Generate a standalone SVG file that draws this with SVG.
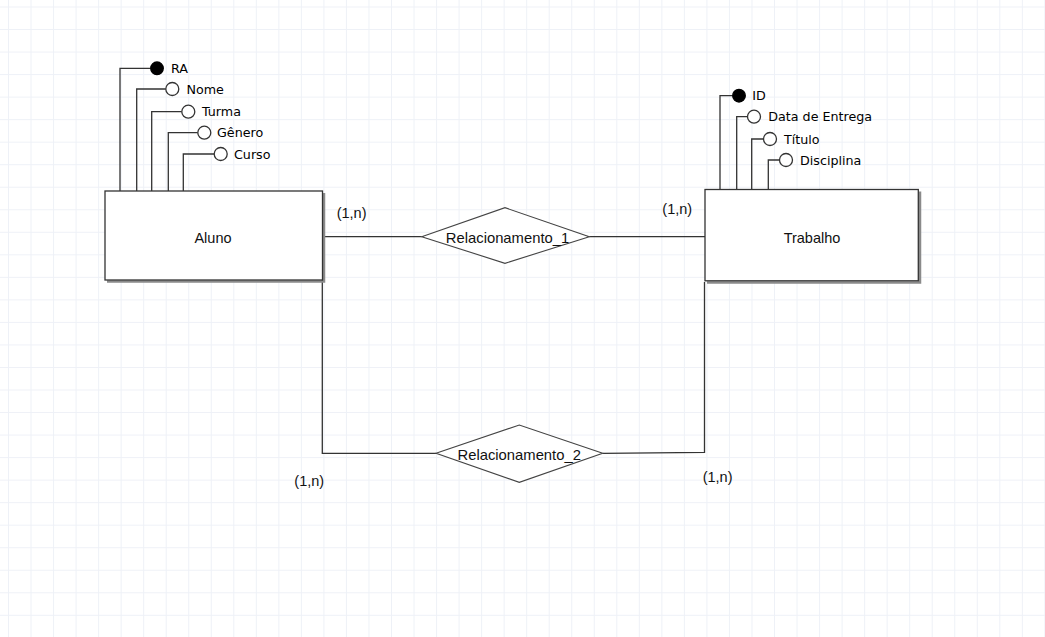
<svg xmlns="http://www.w3.org/2000/svg" width="1045" height="637" viewBox="0 0 1045 637">
  <defs>
    <pattern id="grid" x="8" y="6.5" width="22.53" height="22.53" patternUnits="userSpaceOnUse">
      <path d="M0 0 H22.53 M0 0 V22.53" fill="none" stroke="#eef1f7" stroke-width="2"/>
    </pattern>
    <style>
      .ln { fill: none; stroke: #333; stroke-width: 1.3; }
      .ent { fill: #fff; stroke: #333; stroke-width: 1.3; }
      .shadow { fill: none; stroke: #8a8a8a; stroke-width: 2.5; }
      .rel { fill: #fff; stroke: #444; stroke-width: 1.1; }
      .att { fill: #fff; stroke: #333; stroke-width: 1.3; }
      .key { fill: #000; stroke: #000; stroke-width: 1.3; }
      .atxt { font-family: "DejaVu Sans", sans-serif; font-size: 12.7px; fill: #000; }
      .etxt { font-family: "Liberation Sans", Arial, sans-serif; font-size: 14.5px; fill: #111; text-anchor: middle; }
      .rtxt { font-family: "Liberation Sans", Arial, sans-serif; font-size: 14.8px; fill: #111; text-anchor: middle; }
      .card { font-family: "Liberation Sans", Arial, sans-serif; font-size: 14.5px; fill: #111; }
    </style>
  </defs>

  <rect width="1045" height="637" fill="#fff"/>
  <rect width="1045" height="637" fill="url(#grid)"/>

  <!-- relationship lines -->
  <g id="connectors">
    <path class="ln" d="M322.5 236.7 H421.7"/>
    <path class="ln" d="M589.3 236.7 H705"/>
    <path class="ln" d="M322.3 280 V453.3 H436"/>
    <path class="ln" d="M602.7 453.3 L704.5 452.3 V282"/>
  </g>

  <!-- entity: Aluno -->
  <g id="aluno">
    <path class="ln" d="M120 191 V68.3 H150.5"/>
    <circle class="key" cx="157" cy="68.3" r="6.3"/>
    <text class="atxt" x="171" y="73">RA</text>
    <path class="ln" d="M136.7 191 V89 H165.8"/>
    <circle class="att" cx="172.3" cy="89" r="6.5"/>
    <text class="atxt" x="186.5" y="93.5">Nome</text>
    <path class="ln" d="M151.7 191 V111.7 H181.8"/>
    <circle class="att" cx="188.3" cy="111.7" r="6.5"/>
    <text class="atxt" x="202" y="116.2">Turma</text>
    <path class="ln" d="M168.3 191 V132.7 H197.8"/>
    <circle class="att" cx="204.3" cy="132.7" r="6.5"/>
    <text class="atxt" x="217" y="137.2">Gênero</text>
    <path class="ln" d="M183.3 191 V154 H214.2"/>
    <circle class="att" cx="220.7" cy="154" r="6.5"/>
    <text class="atxt" x="234" y="158.5">Curso</text>
    <path class="shadow" d="M324 193 V281.5 H107"/>
    <rect class="ent" x="105" y="191" width="217.5" height="89"/>
    <text class="etxt" x="213" y="242.7">Aluno</text>
  </g>

  <!-- entity: Trabalho -->
  <g id="trabalho">
    <path class="ln" d="M720 189.5 V95.7 H732.5"/>
    <circle class="key" cx="739" cy="95.7" r="6.3"/>
    <text class="atxt" x="752.3" y="100.2">ID</text>
    <path class="ln" d="M736.7 189.5 V116.7 H747.5"/>
    <circle class="att" cx="754" cy="116.7" r="6.5"/>
    <text class="atxt" x="768.3" y="121.2">Data de Entrega</text>
    <path class="ln" d="M751.7 189.5 V139 H763.5"/>
    <circle class="att" cx="770" cy="139" r="6.5"/>
    <text class="atxt" x="784" y="143.5">Título</text>
    <path class="ln" d="M768.3 189.5 V160 H779.5"/>
    <circle class="att" cx="786" cy="160" r="6.5"/>
    <text class="atxt" x="800" y="164.5">Disciplina</text>
    <path class="shadow" d="M920 191.5 V282.5 H707"/>
    <rect class="ent" x="705" y="189.5" width="213.3" height="91.3"/>
    <text class="etxt" x="812" y="242.7">Trabalho</text>
  </g>

  <!-- relationship: Relacionamento_1 -->
  <g id="relacionamento_1">
    <polygon class="rel" points="421.7,236.7 505,207.7 589.3,236.7 505,263.3"/>
    <text class="rtxt" x="507.5" y="242.7">Relacionamento_1</text>
  </g>

  <!-- relationship: Relacionamento_2 -->
  <g id="relacionamento_2">
    <polygon class="rel" points="436,453.3 519.3,425 602.7,453.3 519.3,482.3"/>
    <text class="rtxt" x="519.2" y="460">Relacionamento_2</text>
  </g>

  <!-- cardinalities -->
  <g id="cardinalities">
    <text class="card" x="336.7" y="217.7">(1,n)</text>
    <text class="card" x="662.3" y="213.5">(1,n)</text>
    <text class="card" x="294.3" y="486.3">(1,n)</text>
    <text class="card" x="702.7" y="482">(1,n)</text>
  </g>
</svg>
